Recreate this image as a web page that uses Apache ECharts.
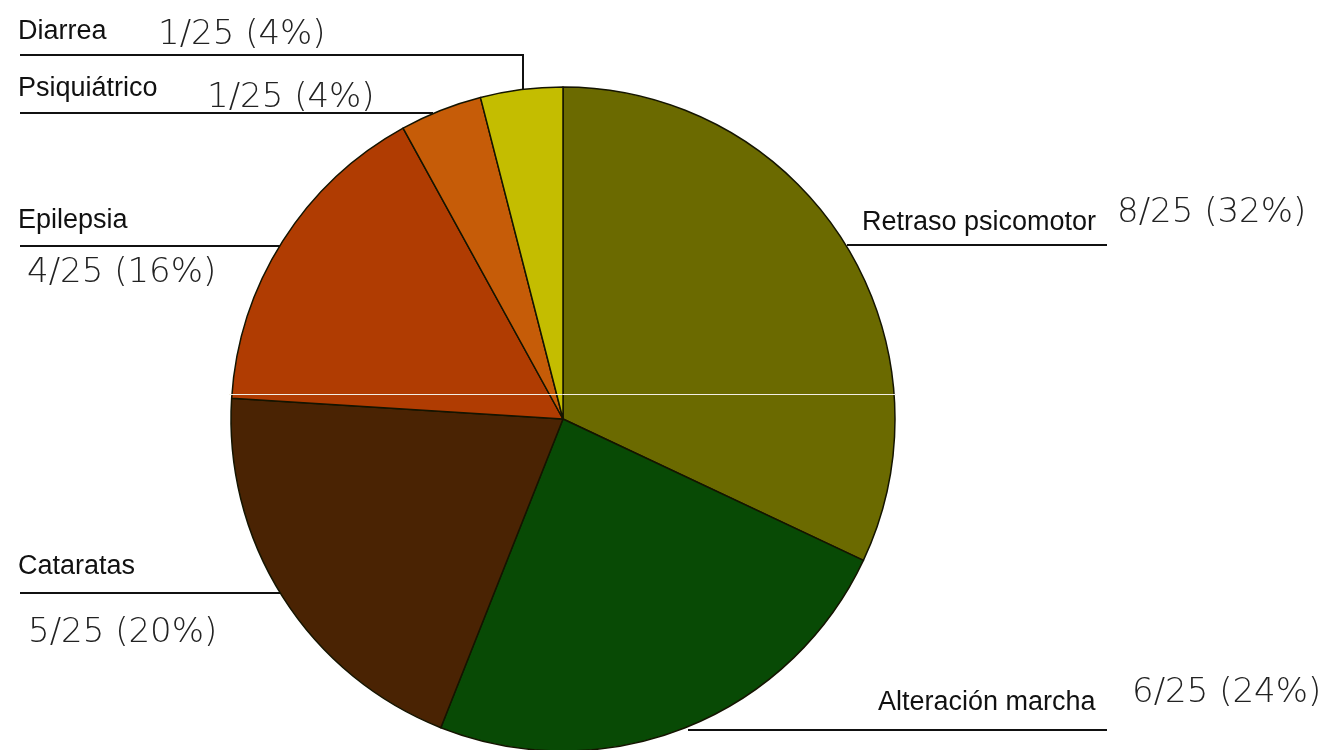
<!DOCTYPE html>
<html>
<head>
<meta charset="utf-8">
<title>Manifestaciones clínicas</title>
<script src="https://cdn.jsdelivr.net/npm/echarts@6/dist/echarts.min.js"></script>
<style>
  html, body { margin: 0; padding: 0; background: #ffffff; }
  #chart { width: 1328px; height: 750px; }
</style>
</head>
<body>
<div id="chart"></div>
<script>
// Clinical findings, counted over the 25 patients of the series
const categories = ['Retraso psicomotor', 'Alteración marcha', 'Cataratas', 'Epilepsia', 'Psiquiátrico', 'Diarrea'];
const counts = [8, 6, 5, 4, 1, 1];
const totalPatients = 25;
const sliceColors = ['#6b6a00', '#084a05', '#4a2303', '#b03c02', '#c65c08', '#c4bd00'];

// Where each callout goes: label box origin, leader line, and per-token tweaks
const callouts = [
  { x: 862, y: 183, line: [[1107, 245], [980, 245], [847, 245]],
    name: { width: 255, lineHeight: 60, padding: [20, 0, 0, 0] }, value: { lineHeight: 60 }, sep: '' },
  { x: 878, y: 663, line: [[1107, 730], [900, 730], [688, 730]],
    name: { width: 254, lineHeight: 60, padding: [20, 0, 0, 0] }, value: { lineHeight: 60 }, sep: '' },
  { x: 18, y: 533, line: [[20, 593], [150, 593], [281, 593]],
    name: { lineHeight: 67 }, value: { lineHeight: 67, padding: [0, 0, 0, 10] }, sep: '\n' },
  { x: 18, y: 195, line: [[20, 246], [150, 246], [280, 246]],
    name: { lineHeight: 52 }, value: { lineHeight: 52, padding: [0, 0, 0, 9] }, sep: '\n' },
  { x: 18, y: 76, line: [[20, 113], [300, 113], [433, 113]],
    name: { width: 189, lineHeight: 40, padding: [0, 0, 14, 0] }, value: { lineHeight: 40, padding: [4, 0, 0, 0] }, sep: '' },
  { x: 18, y: 12, line: [[20, 55], [523, 55], [523, 89]],
    name: { width: 140, lineHeight: 40 }, value: { lineHeight: 40, padding: [6, 0, 0, 0] }, sep: '' }
];

const NAME_FONT = '"Liberation Sans", Arial, sans-serif';
const VALUE_FONT = '"DejaVu Sans", sans-serif';

const rich = {};
callouts.forEach(function (c, i) {
  rich['n' + i] = Object.assign({ fontFamily: NAME_FONT, fontSize: 27, color: '#111111' }, c.name);
  rich['v' + i] = Object.assign({ fontFamily: VALUE_FONT, fontSize: 34, fontWeight: 200, color: '#222222' }, c.value);
});

const pieData = categories.map(function (name, i) {
  return { name: name, value: counts[i], itemStyle: { color: sliceColors[i] } };
});

function valueText(v) {
  return v + '/' + totalPatients + ' (' + Math.round(v / totalPatients * 100) + '%)';
}

const chart = echarts.init(document.getElementById('chart'), null, { renderer: 'canvas' });
chart.setOption({
  animation: false,
  backgroundColor: '#ffffff',
  series: [{
    type: 'pie',
    center: [563, 419],
    radius: 332,
    startAngle: 90,
    clockwise: true,
    avoidLabelOverlap: false,
    emphasis: { disabled: true },
    itemStyle: { borderColor: '#141400', borderWidth: 1.5 },
    data: pieData,
    label: {
      show: true,
      position: 'outside',
      overflow: 'none',
      formatter: function (p) {
        const i = p.dataIndex;
        return '{n' + i + '|' + p.name + '}' + callouts[i].sep + '{v' + i + '|' + valueText(p.value) + '}';
      },
      rich: rich
    },
    labelLine: { show: true, lineStyle: { color: '#111111', width: 2 } },
    labelLayout: function (params) {
      const c = callouts[params.dataIndex];
      return { x: c.x, y: c.y, align: 'left', verticalAlign: 'top', labelLinePoints: c.line };
    }
  }],
  graphic: [{
    type: 'line',
    z: 100,
    silent: true,
    shape: { x1: 229, y1: 394.5, x2: 896, y2: 394.5 },
    style: { stroke: '#f2eee4', lineWidth: 1 }
  }]
});
</script>
</body>
</html>
